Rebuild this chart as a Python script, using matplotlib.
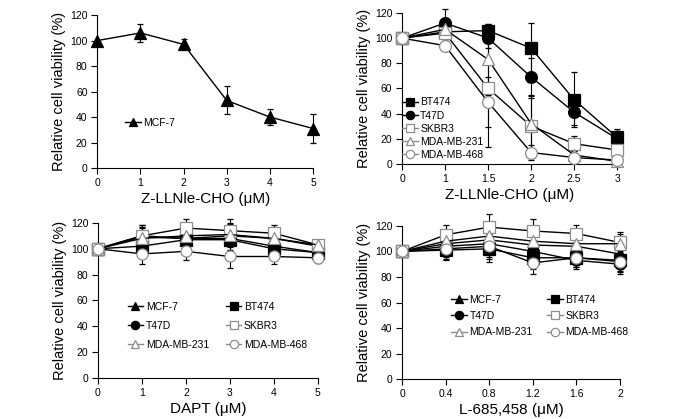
import numpy as np
import matplotlib
matplotlib.use("Agg")
import matplotlib.pyplot as plt
from matplotlib.lines import Line2D

plt.rcParams["font.family"] = ["Liberation Sans", "DejaVu Sans"]

# ---- data ----
# panel A: Z-LLNle-CHO, MCF-7
a_x = [0, 1, 2, 3, 4, 5]
a_mcf7 = [100, 106, 97, 53, 40, 31]
a_mcf7_err = [0, 7, 4, 11, 6, 11]

# panel B: Z-LLNle-CHO, other lines (doses equally spaced on the axis)
b_ticks = ["0", "1", "1.5", "2", "2.5", "3"]
b_bt474 = [100, 105, 106, 92, 51, 21]
b_bt474_err = [0, 6, 5, 20, 22, 7]
b_t47d = [100, 112, 100, 69, 41, 20]
b_t47d_err = [0, 11, 8, 15, 10, 6]
b_skbr3 = [100, 104, 60, 30, 16, 11]
b_skbr3_err = [0, 5, 47, 25, 6, 5]
b_mda231 = [100, 107, 83, 32, 7, 2]
b_mda231_err = [0, 8, 28, 20, 3, 2]
b_mda468 = [100, 94, 49, 9, 5, 3]
b_mda468_err = [0, 4, 20, 6, 2, 2]

# panel C: DAPT
c_x = [0, 1, 2, 3, 4, 5]
c_mcf7 = [100, 109, 108, 110, 108, 102]
c_bt474 = [100, 102, 107, 107, 100, 97]
c_t47d = [100, 110, 108, 108, 102, 97]
c_skbr3 = [100, 110, 116, 114, 112, 103]
c_mda231 = [100, 108, 110, 111, 108, 103]
c_mda468 = [100, 96, 98, 94, 94, 93]
c_err = [0, 8, 7, 9, 6, 4]

# panel D: L-685,458
d_x = [0, 0.4, 0.8, 1.2, 1.6, 2]
d_ticks = ["0", "0.4", "0.8", "1.2", "1.6", "2"]
d_mcf7 = [100, 106, 109, 105, 104, 98]
d_bt474 = [100, 101, 102, 95, 95, 93]
d_t47d = [100, 104, 106, 100, 93, 90]
d_skbr3 = [100, 113, 119, 116, 114, 107]
d_mda231 = [100, 108, 112, 108, 106, 106]
d_mda468 = [100, 102, 104, 91, 95, 92]
d_err = [0, 8, 10, 9, 7, 8]

GRAY = "0.55"
STY = {
    "MCF-7": dict(marker="^", mfc="black", mec="black"),
    "BT474": dict(marker="s", mfc="black", mec="black"),
    "T47D": dict(marker="o", mfc="black", mec="black"),
    "SKBR3": dict(marker="s", mfc="white", mec=GRAY),
    "MDA-MB-231": dict(marker="^", mfc="white", mec=GRAY),
    "MDA-MB-468": dict(marker="o", mfc="white", mec=GRAY),
}


def series(ax, x, y, err, name, ms=8):
    s = STY[name]
    ax.errorbar(x, y, yerr=err, color="black", lw=1, elinewidth=0.8, capsize=2,
                marker=s["marker"], mfc=s["mfc"], mec=s["mec"], ms=ms, mew=0.9,
                clip_on=False, zorder=3)


def handle(name):
    s = STY[name]
    lc = "black" if s["mfc"] == "black" else GRAY
    return Line2D([], [], color=lc, lw=1, marker=s["marker"], mfc=s["mfc"],
                  mec=s["mec"], ms=6, mew=0.9)


def legend(ax, names, anchor, **kw):
    ax.legend([handle(n) for n in names], names, loc="upper left", bbox_to_anchor=anchor,
              frameon=False, fontsize=7.5, handlelength=1.5, handletextpad=0.25,
              borderaxespad=0, borderpad=0, **kw)


def style(ax, xlabel):
    ax.set_ylim(0, 120)
    ax.set_yticks(range(0, 121, 20))
    ax.spines["top"].set_visible(False)
    ax.spines["right"].set_visible(False)
    ax.tick_params(direction="out", length=4, width=0.8, labelsize=7.5, pad=3)
    ax.set_ylabel("Relative cell viability (%)", fontsize=10.5, labelpad=3)
    ax.set_xlabel(xlabel, fontsize=11, labelpad=3)


fig = plt.figure(figsize=(6.85, 4.19), dpi=100)
axA = fig.add_axes([0.142, 0.599, 0.315, 0.365])
axB = fig.add_axes([0.587, 0.609, 0.314, 0.360])
axC = fig.add_axes([0.143, 0.098, 0.321, 0.370])
axD = fig.add_axes([0.587, 0.095, 0.318, 0.366])

# A
series(axA, a_x, a_mcf7, a_mcf7_err, "MCF-7")
axA.set_xlim(0, 5)
axA.set_xticks(a_x)
style(axA, "Z-LLNle-CHO (\u03bcM)")
legend(axA, ["MCF-7"], (0.13, 0.33))

# B
bx = np.arange(len(b_ticks))
for name, y, e in [("BT474", b_bt474, b_bt474_err), ("T47D", b_t47d, b_t47d_err),
                   ("SKBR3", b_skbr3, b_skbr3_err), ("MDA-MB-231", b_mda231, b_mda231_err),
                   ("MDA-MB-468", b_mda468, b_mda468_err)]:
    series(axB, bx, y, e, name, ms=8.5)
axB.set_xlim(0, 5)
axB.set_xticks(bx)
axB.set_xticklabels(b_ticks)
style(axB, "Z-LLNle-CHO (\u03bcM)")
legend(axB, ["BT474", "T47D", "SKBR3", "MDA-MB-231", "MDA-MB-468"], (0.0, 0.44),
       labelspacing=0.3)

# legend order follows the reference rows: MCF-7 | BT474, T47D | SKBR3, 231 | 468
order = ["MCF-7", "T47D", "MDA-MB-231", "BT474", "SKBR3", "MDA-MB-468"]

# C
for name, y in [("MCF-7", c_mcf7), ("BT474", c_bt474), ("T47D", c_t47d),
                ("SKBR3", c_skbr3), ("MDA-MB-231", c_mda231), ("MDA-MB-468", c_mda468)]:
    series(axC, c_x, y, c_err, name)
axC.set_xlim(0, 5)
axC.set_xticks(c_x)
style(axC, "DAPT (\u03bcM)")
legend(axC, order, (0.135, 0.49), ncol=2, labelspacing=0.85, columnspacing=1.6)

# D
for name, y in [("MCF-7", d_mcf7), ("BT474", d_bt474), ("T47D", d_t47d),
                ("SKBR3", d_skbr3), ("MDA-MB-231", d_mda231), ("MDA-MB-468", d_mda468)]:
    series(axD, d_x, y, d_err, name)
axD.set_xlim(0, 2)
axD.set_xticks(d_x)
axD.set_xticklabels(d_ticks)
style(axD, "L-685,458 (\u03bcM)")
legend(axD, order, (0.225, 0.55), ncol=2, labelspacing=0.6, columnspacing=1.4)

fig.savefig("out.png", dpi=100)
